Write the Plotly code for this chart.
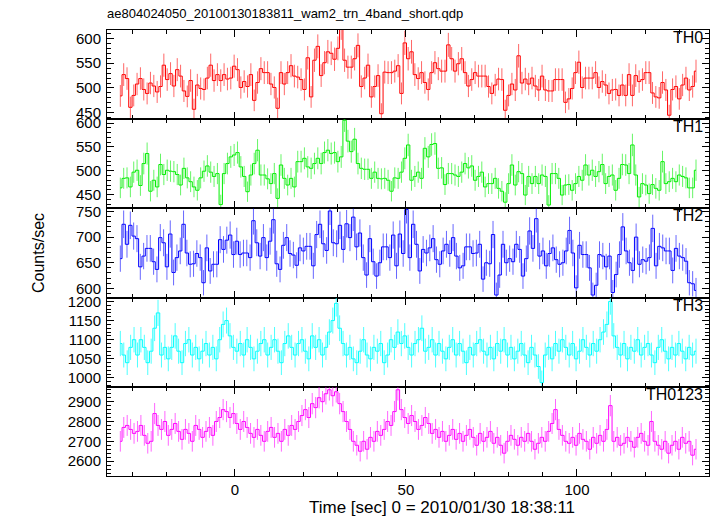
import numpy as np
import plotly.graph_objects as go
from plotly.subplots import make_subplots

# ---- data (1-s bins, time in sec since 2010/01/30 18:38:11) ----
T_FIRST = -33.5
T_LAST = 134.8
BIN_SEC = 1.0

th0 = [484,527,519,461,485,508,519,497,489,510, 504,492,503,546,517,529,504,537,524,494,
       483,515,457,506,499,497,520,546,515,527, 515,527,518,520,544,537,501,513,503,527,
       475,511,539,531,531,508,501,459,531,508, 531,545,524,522,517,497,561,482,556,584,
       525,551,573,570,558,580,622,556,542,542, 559,586,503,520,546,482,503,525,448,532,
       531,531,534,545,489,591,559,
       573,527,519,531,511,497,531,551,539,534, 534,587,559,534,549,559,531,504,517,531,
       524,524,524,503,489,506,518,517,455,485, 508,496,565,510,518,508,520,504,496,524,
       496,494,494,517,517,517,471,478,499,531, 552,501,520,520,520,531,501,513,506,489,
       496,497,485,506,485,527,485,525,513,517, 531,531,490,482,480,511,496,445,497,503,
       478,506,520,496,503,534]

th1 = [464,484,485,466,497,501,469,515,536,457, 480,466,513,492,501,499,498,492,470,505,
       485,477,466,459,485,499,510,497,488,494, 429,494,515,529,533,538,508,488,456,491,
       515,543,491,491,483,473,494,442,512,484, 470,484,466,519,519,526,508,505,515,526,
       515,538,543,536,538,519,529,606,562,540, 566,515,505,503,503,484,497,484,483,484,
       480,457,485,484,497,526,554,
       480,488,497,484,547,529,555,557,505,506, 471,494,494,491,488,497,515,506,510,480,
       488,497,466,473,473,484,463,457,434,473, 512,470,498,494,449,488,473,488,473,491,
       488,428,494,494,484,449,470,471,459,473, 488,480,512,491,501,488,498,513,473,488,
       491,459,484,513,512,494,554,491,445,473, 470,452,471,463,459,519,473,477,484,477,
       491,488,485,464,464,501]

th2 = [658,725,686,723,702,697,642,663,678,678, 652,637,699,689,642,706,631,660,673,725,
       669,647,648,668,660,611,679,634,647,647, 695,676,694,704,666,692,666,669,669,660,
       732,689,663,699,660,692,734,648,637,684, 699,668,665,645,679,673,682,682,644,705,
       725,687,674,751,689,687,723,676,726,699, 739,681,708,660,626,697,652,624,650,681,
       681,660,704,644,706,668,754,
       660,725,686,634,676,669,679,697,656,647, 673,686,668,699,663,640,644,681,681,668,
       669,686,618,650,648,705,587,626,686,650, 658,652,686,676,624,658,712,678,736,663,
       673,644,668,679,656,647,650,673,713,669, 601,684,666,666,640,587,606,666,663,642,
       663,592,627,666,720,673,650,635,700,647, 656,653,660,717,644,682,679,673,673,635,
       678,663,660,653,611,609,596]

th3 = [1090,1060,1040,1080,1100,1060, 1100,1080,1040,1070,1130,1170,1060,1080,
       1050,1080,1110,1070,1040,1090,1100,1060,1080,1050,
       1070,1090,1060,1080,1050,1100,1140,1150,1110,1080,
       1070,1090,1060,1100,1080,1050,1070,1090,1100,1060,
       1080,1100,1070,1040,1090,1110,1080,1060,1090,1100,
       1070,1050,1110,1080,1100,1060,1080,1120,1150,1195,
       1130,1090,1060,1080,1050,1040,1070,1100,1060,1050,
       1080,1070,1090,1040,1060,1100,1080,1120,1090,1110,
       1080,1060,1090,1100,1130,1070,1080,1100,1060,1090,
       1070,1050,1080,1100,1060,1090,1070,1040,1080,1060,
       1090,1100,1070,1060,1080,1050,1090,1070,1100,1060,
       1080,1050,1070,1090,1060,1040,1080,1060,1030,988,
       1060,1080,1050,1090,1070,1100,1080,1060,1090,1050,
       1070,1100,1080,1060,1090,1070,1100,1120,1140,1200,
       1110,1080,1060,1090,1050,1080,1070,1100,1060,1080,
       1090,1060,1040,1080,1100,1070,1050,1080,1060,1090,1070,1050,1080,1060,1070]

th0123 = [2700,2770,2780,2760,2740,2750,2780,2730,2690,2700,
          2840,2780,2760,2800,2730,2760,2790,2750,2710,2760,
          2740,2700,2780,2760,2720,2750,2770,2730,2800,2820,
          2860,2850,2820,2840,2790,2760,2800,2770,2740,2720,
          2760,2730,2700,2750,2770,2720,2740,2700,2760,2730,
          2780,2760,2800,2830,2860,2820,2890,2870,2920,2900,
          2940,2960,2930,2950,2890,2850,2800,2760,2700,2680,
          2650,2700,2660,2720,2700,2750,2730,2760,2800,2780,
          2850,2960,2860,2820,2790,2830,2800,2760,2780,2820,
          2790,2740,2760,2720,2750,2700,2730,2760,2710,2740,
          2700,2730,2760,2720,2680,2740,2700,2720,2750,2690,
          2720,2680,2640,2700,2730,2710,2680,2720,2700,2740,
          2700,2660,2690,2720,2700,2750,2790,2860,2760,2730,
          2700,2690,2720,2680,2740,2710,2700,2660,2720,2690,
          2730,2700,2760,2880,2700,2720,2680,2690,2720,2700,
          2670,2720,2740,2700,2680,2800,2700,2680,2660,2700,
          2640,2680,2700,2660,2720,2690,2700,2630,2660]

series_names = ["TH0", "TH1", "TH2", "TH3", "TH0123"]
series_values = [th0, th1, th2, th3, th0123]
series_colors = ["#ff0000", "#00ee00", "#0000ff", "#00ffff", "#ff00ff"]
error_colors = ["rgba(255,0,0,0.6)", "rgba(0,238,0,0.6)", "rgba(0,0,255,0.6)",
                "rgba(0,255,255,0.7)", "rgba(255,0,255,0.6)"]
y_ranges = [[437, 617], [421, 608], [582, 756], [977, 1210], [2525, 2975]]
y_dticks = [50, 50, 50, 50, 100]
y_minor = [10, 10, 10, 10, 20]
x_range = [-37.4, 138.6]
x_tickvals = [0, 50, 100]

FONT = "Liberation Sans, Arial, Helvetica, sans-serif"

fig = make_subplots(rows=5, cols=1, shared_xaxes=True, vertical_spacing=0)

for i, (name, vals, col) in enumerate(zip(series_names, series_values, series_colors)):
    v = np.array(vals, dtype=float)
    t = np.linspace(T_FIRST, T_LAST, len(v))
    err = np.sqrt(v * BIN_SEC) / BIN_SEC  # Poisson errors of 1-s bins
    fig.add_trace(go.Scatter(
        x=t, y=v, mode="lines",
        line=dict(shape="hvh", color=col, width=1),
        error_y=dict(type="data", array=err, width=0, thickness=1, color=error_colors[i]),
        showlegend=False, hoverinfo="skip"),
        row=i + 1, col=1)
    fig.update_yaxes(
        row=i + 1, col=1, range=y_ranges[i], dtick=y_dticks[i], tick0=0,
        ticks="inside", ticklen=7, tickwidth=1, tickcolor="black",
        mirror="allticks", showline=True, linecolor="black", linewidth=1,
        showgrid=False, zeroline=False, ticklabelstandoff=2,
        tickfont=dict(family=FONT, size=15, color="black"),
        minor=dict(dtick=y_minor[i], tick0=0, ticks="inside", ticklen=4,
                   tickcolor="black", showgrid=False))
    fig.update_xaxes(
        row=i + 1, col=1, range=x_range, tickvals=x_tickvals,
        ticks="inside", ticklen=7, tickwidth=1, tickcolor="black",
        mirror="allticks", showline=True, linecolor="black", linewidth=1,
        showgrid=False, zeroline=False,
        showticklabels=(i == 4),
        tickfont=dict(family=FONT, size=15, color="black"),
        minor=dict(dtick=10, tick0=0, ticks="inside", ticklen=4,
                   tickcolor="black", showgrid=False))
    yref = "y domain" if i == 0 else f"y{i + 1} domain"
    xref = "x domain" if i == 0 else f"x{i + 1} domain"
    fig.add_annotation(text=name, xref=xref, yref=yref, x=0.993, y=1.0, yshift=3,
                       xanchor="right", yanchor="top", showarrow=False,
                       font=dict(family=FONT, size=16, color="black"))

W, H = 717, 516
ML, MR, MT, MB = 107, 8, 30, 40
PW, PH = W - ML - MR, H - MT - MB

def px_x(px):
    return (px - ML) / PW

def px_y(py):
    return (H - MB - py) / PH

fig.add_annotation(text="ae804024050_20100130183811_wam2_trn_4band_short.qdp",
                   xref="paper", yref="paper", x=px_x(105), y=px_y(14),
                   xanchor="left", yanchor="middle", showarrow=False,
                   font=dict(family=FONT, size=13, color="black"))
fig.add_annotation(text="Counts/sec", xref="paper", yref="paper",
                   x=px_x(38), y=px_y(253), textangle=-90,
                   xanchor="center", yanchor="middle", showarrow=False,
                   font=dict(family=FONT, size=16, color="black"))
fig.add_annotation(text="Time [sec] 0 = 2010/01/30 18:38:11", xref="paper", yref="paper",
                   x=px_x(442), y=px_y(507),
                   xanchor="center", yanchor="middle", showarrow=False,
                   font=dict(family=FONT, size=17, color="black"))

fig.update_layout(width=W, height=H,
                  margin=dict(l=ML, r=MR, t=MT, b=MB),
                  paper_bgcolor="white", plot_bgcolor="white",
                  font=dict(family=FONT, color="black"))

fig.write_html("out.html", config={"displayModeBar": False},
               post_script="document.body.style.margin='0px';"
                           "document.body.style.overflow='hidden';")
